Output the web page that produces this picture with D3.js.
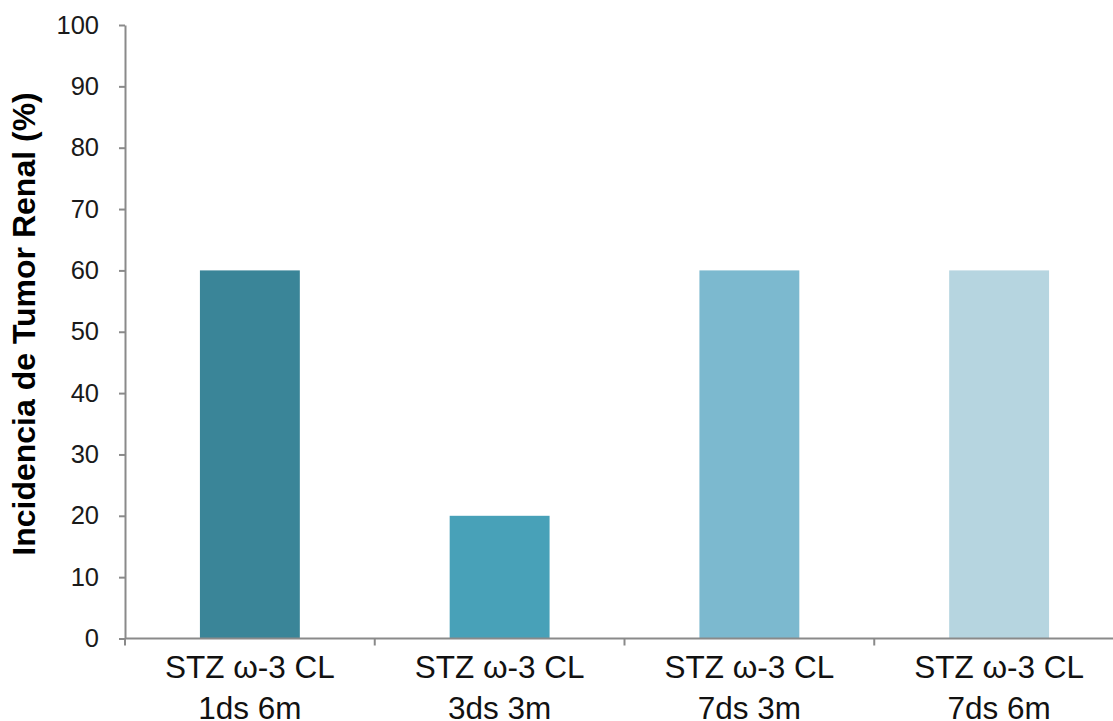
<!DOCTYPE html>
<html>
<head>
<meta charset="utf-8">
<script src="https://cdn.jsdelivr.net/npm/d3@7"></script>
<style>
  html, body { margin: 0; padding: 0; background: #fff; }
  svg { display: block; }
  text { font-family: "Liberation Sans", Arial, sans-serif; }
</style>
</head>
<body>
<svg id="chart" width="1113" height="721"></svg>
<script>
const categoriesLine1 = ["STZ ω-3 CL", "STZ ω-3 CL", "STZ ω-3 CL", "STZ ω-3 CL"];
const categoriesLine2 = ["1ds 6m", "3ds 3m", "7ds 3m", "7ds 6m"];
const values = [60, 20, 60, 60];
const barColors = ["#3A8598", "#48A1B8", "#7CB9CF", "#B6D5E0"];
const yTicks = [0, 10, 20, 30, 40, 50, 60, 70, 80, 90, 100];
const yLabel = "Incidencia de Tumor Renal (%)";

(function () {
const svg = d3.select("#chart");
const mLeft = 125, mRight = 1124, mTop = 25, mBottom = 638.5;
const axisColor = "#8a8a8a";

const keys = categoriesLine2.map((d, i) => i);
const x = d3.scaleBand().domain(keys).range([mLeft, mRight]).paddingInner(0.6).paddingOuter(0.3);
const y = d3.scaleLinear().domain([0, 100]).range([mBottom, mTop]);

// bars
svg.append("g").selectAll("rect").data(values).join("rect")
  .attr("x", (d, i) => x(i))
  .attr("y", d => y(d))
  .attr("width", x.bandwidth())
  .attr("height", d => y(0) - y(d))
  .attr("fill", (d, i) => barColors[i]);

// y axis
const yAxis = svg.append("g")
  .attr("transform", `translate(${mLeft},0)`)
  .call(d3.axisLeft(y).tickValues(yTicks).tickSize(6).tickPadding(20).tickSizeOuter(0));
yAxis.select(".domain").attr("stroke", axisColor).attr("stroke-width", 2);
yAxis.selectAll(".tick line").attr("stroke", axisColor).attr("stroke-width", 2);
yAxis.selectAll(".tick text")
  .attr("fill", "#1a1a1a")
  .style("font-size", "25.5px")
  .style("font-family", "'Liberation Sans', Arial, sans-serif");

// x axis line
svg.append("line")
  .attr("x1", mLeft).attr("x2", 1113)
  .attr("y1", y(0)).attr("y2", y(0))
  .attr("stroke", axisColor).attr("stroke-width", 2);

// category boundary ticks
const step = x.step();
const x0 = x(0) - step * x.paddingOuter();
svg.append("g").selectAll("line").data(d3.range(keys.length + 1)).join("line")
  .attr("x1", i => x0 + i * step).attr("x2", i => x0 + i * step)
  .attr("y1", y(0)).attr("y2", y(0) + 7)
  .attr("stroke", axisColor).attr("stroke-width", 2);

// category labels
const lab = svg.append("g").selectAll("text").data(keys).join("text")
  .attr("text-anchor", "middle")
  .attr("fill", "#111")
  .style("font-size", "31.5px");
lab.append("tspan")
  .attr("x", i => x(i) + x.bandwidth() / 2)
  .attr("y", 678)
  .text(i => categoriesLine1[i]);
lab.append("tspan")
  .attr("x", i => x(i) + x.bandwidth() / 2)
  .attr("y", 718.5)
  .text(i => categoriesLine2[i]);

// y label
svg.append("text")
  .attr("transform", "translate(35,324) rotate(-90)")
  .attr("text-anchor", "middle")
  .attr("fill", "#000")
  .style("font-size", "32px")
  .style("font-weight", "bold")
  .text(yLabel);
})();
</script>
</body>
</html>
